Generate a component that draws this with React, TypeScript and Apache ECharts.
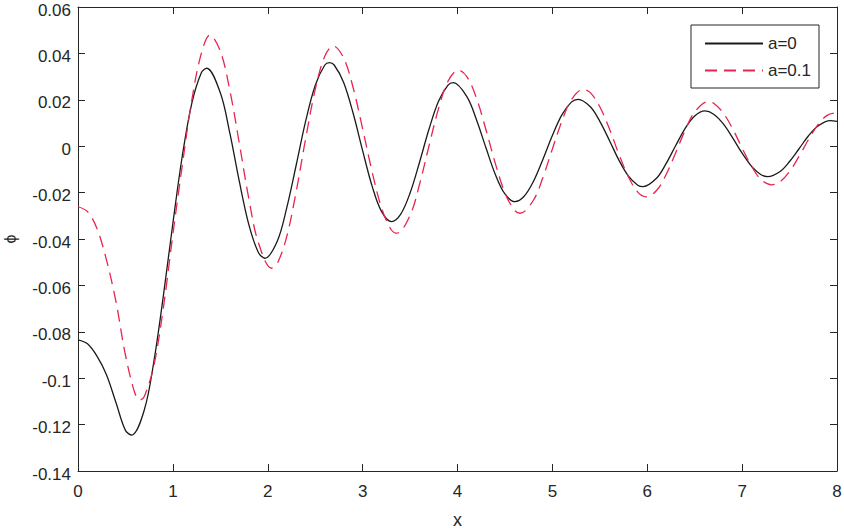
import React, { useEffect, useRef } from 'react';
import * as echarts from 'echarts';

const seriesNames = ['a=0', 'a=0.1'];

const blackX = [0, 0.1, 0.2, 0.3, 0.4, 0.5, 0.566, 0.7, 0.8, 0.9, 1.0, 1.1, 1.2, 1.3, 1.356, 1.5, 1.6, 1.7, 1.8, 1.9, 1.97, 2.1, 2.2, 2.3, 2.4, 2.5, 2.6, 2.65, 2.7, 2.8, 2.9, 3.0, 3.1, 3.2, 3.305, 3.4, 3.5, 3.6, 3.7, 3.8, 3.9, 3.955, 4.1, 4.2, 4.3, 4.4, 4.5, 4.605, 4.7, 4.8, 4.9, 5.0, 5.1, 5.2, 5.27, 5.4, 5.5, 5.6, 5.7, 5.8, 5.9, 5.957, 6.1, 6.2, 6.3, 6.4, 6.5, 6.607, 6.7, 6.8, 6.9, 7.0, 7.1, 7.2, 7.27, 7.4, 7.5, 7.6, 7.7, 7.8, 7.93, 8.0];
const blackY = [-0.0835, -0.0852, -0.0905, -0.0985, -0.1105, -0.1225, -0.1245, -0.1135, -0.0927, -0.0644, -0.0332, -0.004, 0.0186, 0.0317, 0.0336, 0.023, 0.0057, -0.0151, -0.0337, -0.0457, -0.0483, -0.041, -0.0266, -0.0081, 0.0109, 0.0262, 0.0349, 0.036, 0.035, 0.0275, 0.0142, -0.0019, -0.0172, -0.0282, -0.0325, -0.0294, -0.0202, -0.0069, 0.0074, 0.0194, 0.0263, 0.0274, 0.0213, 0.0114, -0.0007, -0.0123, -0.0206, -0.0239, -0.0217, -0.0152, -0.0057, 0.0046, 0.0135, 0.019, 0.0202, 0.017, 0.0107, 0.0026, -0.0059, -0.0128, -0.0168, -0.0174, -0.0137, -0.0074, 0.0003, 0.0077, 0.013, 0.0152, 0.0138, 0.0097, 0.0036, -0.003, -0.0087, -0.0123, -0.0131, -0.0109, -0.0066, -0.0011, 0.0045, 0.0087, 0.011, 0.0107];

const redX = [0, 0.1, 0.2, 0.3, 0.4, 0.5, 0.6, 0.653, 0.7, 0.8, 0.9, 1.0, 1.1, 1.2, 1.3, 1.39, 1.5, 1.6, 1.7, 1.8, 1.9, 2.04, 2.1, 2.2, 2.3, 2.4, 2.5, 2.6, 2.69, 2.8, 2.9, 3.0, 3.1, 3.2, 3.3, 3.36, 3.5, 3.6, 3.7, 3.8, 3.9, 4.01, 4.1, 4.2, 4.3, 4.4, 4.5, 4.6, 4.66, 4.8, 4.9, 5.0, 5.1, 5.2, 5.325, 5.4, 5.5, 5.6, 5.7, 5.8, 5.9, 5.99, 6.1, 6.2, 6.3, 6.4, 6.5, 6.64, 6.7, 6.8, 6.9, 7.0, 7.1, 7.2, 7.31, 7.4, 7.5, 7.6, 7.7, 7.8, 7.9, 8.0];
const redY = [-0.0261, -0.0282, -0.0355, -0.049, -0.067, -0.09, -0.1065, -0.1094, -0.1078, -0.0945, -0.0696, -0.038, -0.008, 0.02, 0.04, 0.0479, 0.041, 0.0242, 0.0013, -0.0225, -0.0414, -0.0526, -0.0506, -0.039, -0.0195, 0.0034, 0.0244, 0.0387, 0.0432, 0.038, 0.0252, 0.0075, -0.011, -0.0267, -0.0359, -0.0375, -0.0298, -0.0164, 0.0002, 0.0162, 0.028, 0.0328, 0.0299, 0.0207, 0.0071, -0.0076, -0.0201, -0.0276, -0.0289, -0.0233, -0.0135, -0.0012, 0.0108, 0.02, 0.0245, 0.0231, 0.017, 0.0076, -0.0033, -0.0131, -0.0198, -0.0218, -0.019, -0.0121, -0.0028, 0.0069, 0.0147, 0.0192, 0.0185, 0.0144, 0.0075, -0.0008, -0.0087, -0.0144, -0.0167, -0.0153, -0.0109, -0.0044, 0.0029, 0.0093, 0.0134, 0.0144];

const axisColor = '#262626';
const font = "'Liberation Sans', Arial, sans-serif";

function pairs(xs: number[], ys: number[]) {
  return xs.map((x, i) => [x, ys[i]]);
}

export default function App() {
  const ref = useRef<HTMLDivElement>(null);
  useEffect(() => {
    const chart = echarts.init(ref.current!, null, { renderer: 'svg' });
    const line = { show: true, onZero: false, lineStyle: { color: axisColor, width: 1 } };
    const tick = { show: true, inside: true, length: 7, lineStyle: { color: axisColor, width: 1 } };
    chart.setOption({
      animation: false,
      backgroundColor: '#fff',
      grid: { left: 78, right: 7, top: 7, bottom: 59, containLabel: false, outerBoundsMode: 'none' },
      legend: {
        orient: 'vertical',
        right: 25,
        top: 25,
        padding: [10, 8, 9, 13],
        itemWidth: 58,
        itemHeight: 14,
        itemGap: 10,
        borderColor: axisColor,
        borderWidth: 1,
        borderRadius: 0,
        backgroundColor: '#fff',
        itemStyle: { opacity: 0 },
        textStyle: { color: axisColor, fontSize: 17, fontFamily: font },
        data: seriesNames,
      },
      xAxis: [
        {
          type: 'value', min: 0, max: 8, interval: 1, position: 'bottom',
          axisLine: line, axisTick: tick, splitLine: { show: false },
          axisLabel: { color: axisColor, fontSize: 17, fontFamily: font, margin: 12 },
          name: 'x', nameLocation: 'middle', nameGap: 40,
          nameTextStyle: { color: axisColor, fontSize: 18, fontFamily: font },
        },
        {
          type: 'value', min: 0, max: 8, interval: 1, position: 'top',
          axisLine: line, axisTick: tick, splitLine: { show: false }, axisLabel: { show: false },
        },
      ],
      yAxis: [
        {
          type: 'value', min: -0.14, max: 0.06, interval: 0.02, position: 'left',
          axisLine: line, axisTick: tick, splitLine: { show: false },
          axisLabel: {
            color: axisColor, fontSize: 17, fontFamily: font, margin: 7,
            formatter: (v: number) => '{v|' + String(parseFloat(v.toFixed(2))) + '}',
            rich: {
              v: {
                color: axisColor, fontSize: 17, fontFamily: font,
                lineHeight: 16, padding: [6, 0, 0, 0],
              },
            },
          },
          name: 'ϕ', nameLocation: 'middle', nameGap: 60, nameRotate: 90,
          nameTextStyle: { color: axisColor, fontSize: 16, fontFamily: font },
        },
        {
          type: 'value', min: -0.14, max: 0.06, interval: 0.02, position: 'right',
          axisLine: line, axisTick: tick, splitLine: { show: false }, axisLabel: { show: false },
        },
      ],
      series: [
        {
          name: seriesNames[0], type: 'line', data: pairs(blackX, blackY),
          symbol: 'none', smooth: 0.35,
          lineStyle: { color: '#1a1a1a', width: 1.3, type: 'solid' },
          itemStyle: { color: '#1a1a1a' },
        },
        {
          name: seriesNames[1], type: 'line', data: pairs(redX, redY),
          symbol: 'none', smooth: 0.35,
          lineStyle: { color: '#e8254f', width: 1.3, type: [12, 7] },
          itemStyle: { color: '#e8254f' },
        },
      ],
    });
    return () => chart.dispose();
  }, []);
  return (
    <div
      ref={ref}
      style={{ position: 'absolute', left: 0, top: 0, width: 844, height: 530, background: '#fff' }}
    />
  );
}
